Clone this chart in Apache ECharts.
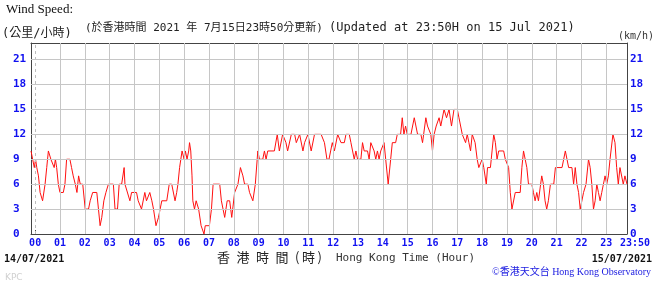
<!DOCTYPE html>
<html>
<head>
<meta charset="utf-8">
<script src="https://cdn.jsdelivr.net/npm/echarts@6/dist/echarts.min.js"></script>
<style>
html,body{margin:0;padding:0;background:#fff;}
#chart{width:656px;height:290px;}
</style>
</head>
<body>
<div id="chart"></div>
<script>
// Time in minutes after 00:00 (14/07/2021), wind speed in km/h
const times = [
 -10,-6,-2,1,4,8,12,18,24,28,32,38,42,46,49,52,56,60,68,72,76,84,88,92,97,101,105,109,115,121,129,133,139,149,153,157,161,166,171,177,189,193,199,203,209,215,217,221,229,233,245,249,257,265,269,277,282,286,292,298,306,318,324,330,338,342,
 345,349,355,360,363,367,371,373,376,379,381,385,389,395,401,408,411,421,426,430,446,450,458,464,470,475,482,490,496,502,506,514,518,526,532,538,542,550,554,558,562,578,585,590,598,602,606,610,619,627,631,639,647,651,659,667,675,691,699,705,
 710,714,718,723,731,735,739,747,751,759,763,767,771,775,779,787,791,795,803,807,811,815,819,823,827,831,835,843,847,853,859,863,871,875,883,887,891,895,899,908,916,924,932,936,944,948,956,960,964,969,976,980,988,994,1000,1006,1012,1020,1024,1028,1032,1040,1044,1048,1052,1056,1063,1068,
 1072,1076,1080,1084,1088,1090,1093,1100,1104,1108,1112,1116,1120,1132,1136,1140,1144,1148,1152,1156,1160,1172,1176,1180,1184,1188,1192,1200,1204,1208,1212,1216,1224,1228,1232,1236,1240,1245,1253,1257,1273,1277,1281,1285,1289,1297,1301,1305,1309,1313,1317,1321,1325,1331,1337,1341,1345,1349,1353,1357,1361,1365,1369,1373,1377,1381,1385,1389,1396,1401,1405,1409,1413,1417,1421,1425,1430
];
const speeds = [
 10,9,8,9,8,7,5,4,6,8,10,9,9,8,9,8,6,5,5,6,9,9,8,7,6,5,7,6,6,3,3,4,5,5,3,1,2,4,5,6,6,3,3,6,6,8,6,6,4,5,5,4,3,5,4,5,4,3,1,2,4,4,6,6,4,5,
 6,8,10,9,10,9,10,11,10,7,4,3,4,3,1,0,1,1,3,6,6,4,2,4,4,2,5,6,8,7,6,6,5,4,6,10,9,9,10,9,10,10,12,10,12,12,11,10,12,12,11,12,10,11,12,10,12,12,11,9,
 9,10,11,10,12,12,11,11,12,12,11,10,9,10,9,9,11,10,10,9,11,11,10,9,10,9,10,11,9,6,9,11,11,12,12,14,12,13,12,12,14,12,12,11,14,13,12,10,12,13,14,13,15,14,15,13,15,15,14,14,12,11,12,11,10,12,11,9,
 8,8,9,8,8,6,8,8,10,12,11,9,10,10,9,9,8,5,3,3,5,5,8,10,9,8,6,6,5,4,5,4,7,6,4,3,4,6,6,8,8,9,10,9,8,8,6,8,6,5,3,3,5,6,9,8,6,3,4,6,5,4,5,6,7,6,7,9,12,11,8,6,8,8,6,7,6
];
const hourTicks = [0,60,120,180,240,300,360,420,480,540,600,660,720,780,840,900,960,1020,1080,1140,1200,1260,1320,1380];
const hourLabels = ['00','01','02','03','04','05','06','07','08','09','10','11','12','13','14','15','16','17','18','19','20','21','22','23'];
const endTick = 1430;
const endLabel = '23:50';
const yLevels = [3,6,9,12,15,18,21];

const chart = echarts.init(document.getElementById('chart'), null, {renderer:'canvas'});
const mono = '"DejaVu Sans Mono", monospace';
const cjk = '"DejaVu Sans Mono", "Noto Sans CJK TC", monospace';
const blue = '#1010f0';
const gridColor = '#c6c6c6';
const frame = '#444';
const windData = times.map((t, i) => [t, speeds[i]]);

const yLabelCommon = {
  color: blue, fontFamily: mono, fontWeight: 'bold', fontSize: 11,
  showMaxLabel: false, showMinLabel: true
};
const xLabelCommon = {margin: 4, color: blue, fontFamily: mono, fontWeight: 'bold', fontSize: 10};

const gridItems = [{xAxis: hourTicks[0], lineStyle: {color: '#bdbdbd', type: [3, 3], width: 1}}]
  .concat(hourTicks.slice(1).map(v => ({xAxis: v, lineStyle: {color: gridColor, type: [1000, 0], width: 1}})))
  .concat(yLevels.map(v => ({yAxis: v, lineStyle: {color: gridColor, type: [1000, 0], width: 1}})));

chart.setOption({
  animation: false,
  backgroundColor: '#fff',
  grid: {left: 31, right: 29, top: 43, bottom: 56, show: false},
  xAxis: [
    {
      type: 'value', min: -10, max: endTick, position: 'bottom',
      axisLine: {show: true, onZero: false, lineStyle: {color: frame}},
      axisTick: {show: true, inside: true, length: 4, lineStyle: {color: frame}, customValues: hourTicks},
      axisLabel: Object.assign({}, xLabelCommon, {
        customValues: hourTicks, showMaxLabel: true, showMinLabel: true,
        formatter: function (v) { const i = hourTicks.indexOf(v); return i >= 0 ? hourLabels[i] : ''; }
      }),
      splitLine: {show: false}
    },
    {
      type: 'value', min: -10, max: endTick, position: 'bottom',
      axisLine: {show: false, onZero: false}, axisTick: {show: false}, splitLine: {show: false},
      axisLabel: Object.assign({}, xLabelCommon, {
        customValues: [endTick], showMaxLabel: true, padding: [0, 0, 0, 16],
        formatter: function () { return endLabel; }
      })
    },
    {
      type: 'value', min: -10, max: endTick, position: 'top',
      axisLine: {show: true, onZero: false, lineStyle: {color: frame}}, axisTick: {show: false},
      axisLabel: {show: false}, splitLine: {show: false}
    }
  ],
  yAxis: [
    {
      type: 'value', min: 0, max: 23, interval: 3, position: 'left',
      axisLine: {show: true, onZero: false, lineStyle: {color: frame}},
      axisTick: {show: false},
      axisLabel: Object.assign({}, yLabelCommon, {margin: 18, align: 'left'}),
      splitLine: {show: true, lineStyle: {color: gridColor, width: 1}}
    },
    {
      type: 'value', min: 0, max: 23, interval: 3, position: 'right',
      axisLine: {show: true, onZero: false, lineStyle: {color: frame}},
      axisTick: {show: true, inside: true, length: 4, lineStyle: {color: frame}},
      axisLabel: Object.assign({}, yLabelCommon, {margin: 3, align: 'left'}),
      splitLine: {show: false}
    }
  ],
  series: [
    {
      // invisible carrier series for the grid lines
      type: 'line', z: 1, data: windData, silent: true, symbol: 'none', showSymbol: false,
      lineStyle: {opacity: 0},
      markLine: {
        silent: true, symbol: ['none', 'none'], label: {show: false}, animation: false,
        lineStyle: {color: gridColor, width: 1},
        data: gridItems
      }
    },
    {
      type: 'line', z: 3,
      data: windData,
      showSymbol: false,
      symbol: 'none',
      lineStyle: {color: '#ff1010', width: 1}
    }
  ],
  graphic: [
    {type: 'text', left: 6, top: 3, style: {text: 'Wind Speed:', font: '13px "Liberation Serif", serif', fill: '#111'}},
    {type: 'text', left: 2, top: 28, style: {text: '(公里/小時)', font: '12px ' + cjk, fill: '#222'}},
    {type: 'text', left: 85, top: 23, style: {text: '(於香港時間 2021 年 7月15日23時50分更新)', font: '11px ' + cjk, fill: '#222'}},
    {type: 'text', left: 329, top: 22, style: {text: '(Updated at 23:50H on 15 Jul 2021)', font: '12px ' + mono, fill: '#222'}},
    {type: 'text', right: 2, top: 31, style: {text: '(km/h)', font: '10px ' + mono, fill: '#333'}},
    {type: 'text', left: 4, top: 254, style: {text: '14/07/2021', font: 'bold 10px ' + mono, fill: '#111'}},
    {type: 'text', left: 217, top: 251, style: {text: '香\u2002港\u2002時\u2002間\u2002(\u2009時\u2009)', font: '13px "Noto Sans CJK TC", serif', fill: '#222'}},
    {type: 'text', left: 336, top: 253, style: {text: 'Hong Kong Time (Hour)', font: '11px ' + mono, fill: '#333'}},
    {type: 'text', right: 4, top: 254, style: {text: '15/07/2021', font: 'bold 10px ' + mono, fill: '#111'}},
    {type: 'text', left: 5, top: 273, style: {text: 'KPC', font: '9px "DejaVu Sans", sans-serif', fill: '#d0d0d0'}},
    {type: 'text', right: 5, top: 267, style: {text: '©香港天文台 Hong Kong Observatory', font: '10px "Liberation Serif", "Noto Sans CJK TC", serif', fill: '#1a1ae0'}}
  ]
});
</script>
</body>
</html>
